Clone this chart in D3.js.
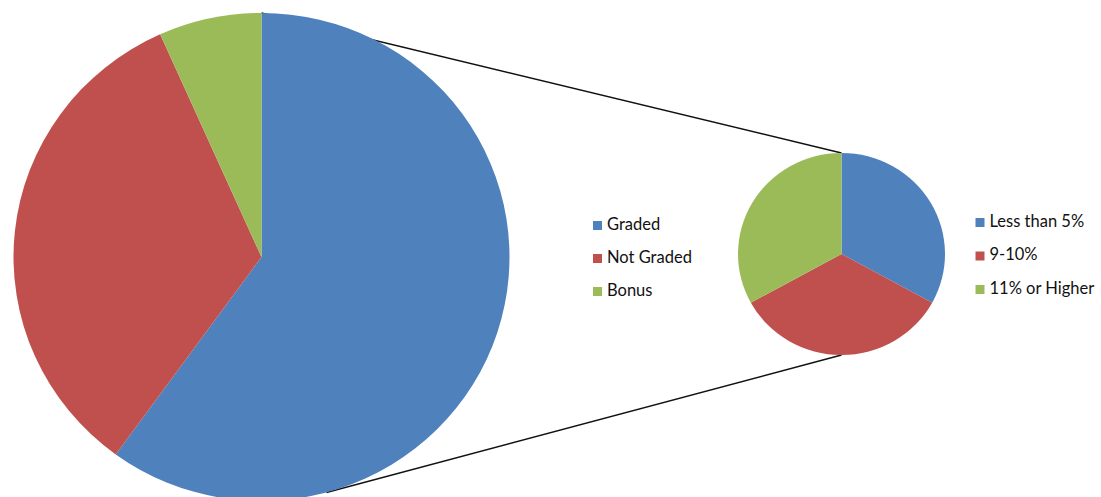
<!DOCTYPE html>
<html>
<head>
<meta charset="utf-8">
<script src="https://cdn.jsdelivr.net/npm/d3@7"></script>
<style>
  html, body { margin: 0; padding: 0; background: #fff; }
  svg { display: block; }
  .legend text { font-family: Lato, "Open Sans", sans-serif; font-size: 16.5px; fill: #111; }
</style>
</head>
<body>
<svg id="chart" width="1101" height="497"></svg>
<script>
// Main pie: share of points by type
const mainCategories = ["Graded", "Not Graded", "Bonus"];
const mainValues = [60, 33.3, 6.7];

// Secondary pie: breakdown of the graded share
const subCategories = ["Less than 5%", "9-10%", "11% or Higher"];
const subValues = [33, 34, 33];

const colors = ["#4F81BD", "#C0504D", "#9BBB59"];

const W = 1101, H = 497;
const svg = d3.select("#chart");

const main = { cx: 261.5, cy: 257, rx: 248, ry: 244 };
const sub  = { cx: 841.5, cy: 254, rx: 103.5, ry: 101 };

const pie = d3.pie().sort(null).value(d => d).startAngle(0).endAngle(2 * Math.PI);
const color = d3.scaleOrdinal().domain([0, 1, 2]).range(colors);

function drawPie(cfg, values) {
  const arc = d3.arc().innerRadius(0).outerRadius(cfg.rx);
  const g = svg.append("g")
    .attr("transform", `translate(${cfg.cx},${cfg.cy}) scale(1,${cfg.ry / cfg.rx})`);
  g.selectAll("path")
    .data(pie(values))
    .join("path")
    .attr("d", arc)
    .attr("fill", (d, i) => color(i));
}

// Connector lines from the main pie to the secondary pie
function connectors() {
  const sy = main.ry / main.rx;
  // bottom of the secondary pie expressed in the main pie's circular space
  const bx = sub.cx - main.cx;
  const by = (sub.cy + sub.ry - main.cy) / sy;
  const d = Math.hypot(bx, by);
  const dirAng = Math.atan2(bx, -by);          // clockwise from 12 o'clock
  const tanAng = dirAng + Math.acos(main.rx / d);
  const tangent = [main.cx + main.rx * Math.sin(tanAng), main.cy - main.rx * Math.cos(tanAng) * sy];

  const lines = [
    [[main.cx, main.cy - main.ry], [sub.cx, sub.cy - sub.ry]],
    [tangent, [sub.cx, sub.cy + sub.ry]]
  ];
  svg.selectAll("line.connector")
    .data(lines)
    .join("line")
    .attr("class", "connector")
    .attr("x1", d => d[0][0]).attr("y1", d => d[0][1])
    .attr("x2", d => d[1][0]).attr("y2", d => d[1][1])
    .attr("stroke", "#111")
    .attr("stroke-width", 1.4);
}

connectors();
drawPie(main, mainValues);
drawPie(sub, subValues);

function legend(x, y, labels, step) {
  const g = svg.append("g").attr("class", "legend").attr("transform", `translate(${x},${y})`);
  const items = g.selectAll("g").data(labels).join("g")
    .attr("transform", (d, i) => `translate(0,${i * step})`);
  items.append("rect").attr("x", 0).attr("y", -8.5).attr("width", 9).attr("height", 9)
    .attr("fill", (d, i) => color(i));
  items.append("text").attr("x", 14).attr("y", 0).text(d => d);
}

legend(593, 229.5, mainCategories, 33);
legend(975.5, 226.5, subCategories, 33.5);
</script>
</body>
</html>
